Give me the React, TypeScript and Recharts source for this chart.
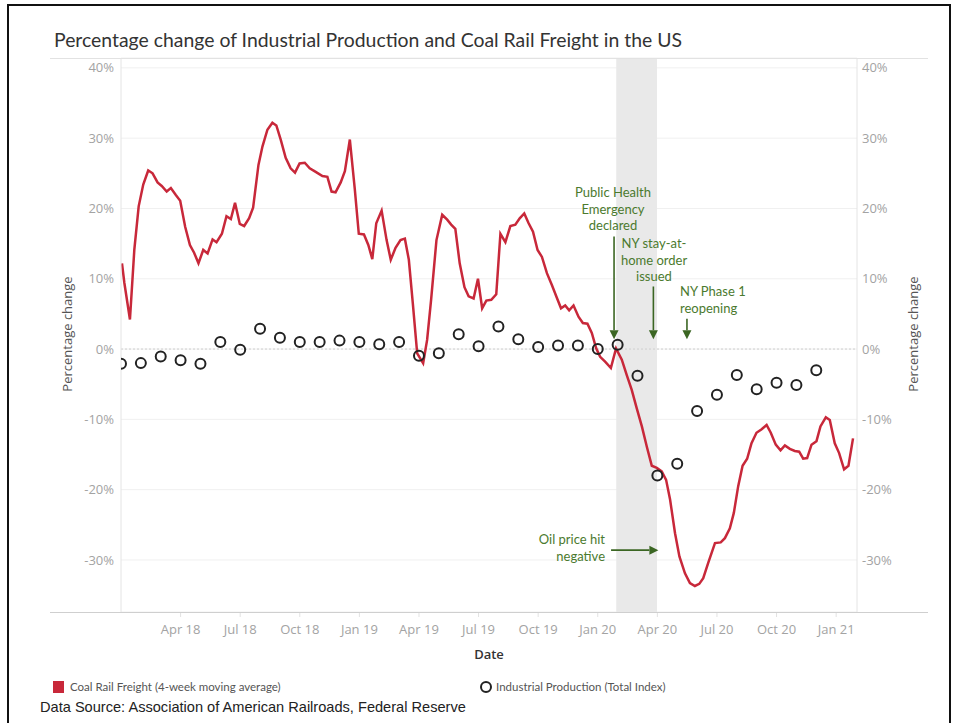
import {
  ComposedChart,
  Line,
  Scatter,
  XAxis,
  YAxis,
  CartesianGrid,
  ReferenceArea,
  ReferenceLine,
} from 'recharts';

// x values are months since Jan 2018 (0 = Jan 1, 2018)
const quarterTicks = [3, 6, 9, 12, 15, 18, 21, 24, 27, 30, 33, 36];
const quarterLabels = ['Apr 18', 'Jul 18', 'Oct 18', 'Jan 19', 'Apr 19', 'Jul 19', 'Oct 19', 'Jan 20', 'Apr 20', 'Jul 20', 'Oct 20', 'Jan 21'];
const pctTicks = [-30, -20, -10, 0, 10, 20, 30, 40];

// Coal rail freight, 4-week moving average (% change)
const freightMonth = [
  0.05, 0.17, 0.45, 0.67, 0.89, 1.12, 1.37, 1.59, 1.84, 2.05,
  2.3, 2.51, 2.76, 2.98, 3.23, 3.47, 3.68, 3.9, 4.14, 4.36,
  4.61, 4.81, 5.08, 5.31, 5.53, 5.74, 5.98, 6.2, 6.45, 6.65,
  6.92, 7.12, 7.37, 7.62, 7.82, 8.04, 8.29, 8.54, 8.76, 8.99,
  9.25, 9.5, 9.8, 10.14, 10.39, 10.6, 10.8, 11.06, 11.27, 11.52,
  11.77, 11.97, 12.23, 12.45, 12.65, 12.85, 13.12, 13.37, 13.58, 13.82,
  14.07, 14.29, 14.49, 14.69, 14.91, 15.21, 15.41, 15.61, 15.88, 16.17,
  16.42, 16.62, 16.83, 17.05, 17.29, 17.5, 17.75, 17.97, 18.18, 18.39,
  18.64, 18.89, 19.1, 19.35, 19.6, 19.85, 20.07, 20.3, 20.52, 20.74,
  20.97, 21.19, 21.44, 21.69, 21.94, 22.15, 22.36, 22.56, 22.78, 23.03,
  23.25, 23.48, 23.7, 23.92, 24.12, 24.37, 24.66, 24.92, 25.21, 25.46,
  25.71, 25.96, 26.22, 26.47, 26.72, 26.97, 27.22, 27.44, 27.64, 27.89,
  28.11, 28.39, 28.64, 28.89, 29.11, 29.31, 29.56, 29.9, 30.19, 30.4,
  30.65, 30.85, 31.07, 31.29, 31.52, 31.74, 31.99, 32.25, 32.5, 32.71,
  32.96, 33.2, 33.42, 33.67, 33.92, 34.14, 34.34, 34.54, 34.76, 35.01,
  35.21, 35.48, 35.68, 35.93, 36.15, 36.4, 36.62, 36.85,
];
const freightPct = [
  12.2, 9.4, 4.2, 14.1, 20.3, 23.4, 25.4, 25.0, 23.7, 23.2,
  22.4, 22.9, 21.9, 21.1, 17.4, 14.8, 13.7, 12.2, 14.1, 13.6,
  15.6, 15.2, 16.4, 18.9, 18.5, 20.8, 17.8, 17.5, 18.6, 20.1,
  26.2, 28.8, 31.2, 32.2, 31.8, 29.8, 27.2, 25.7, 25.1, 26.4,
  26.5, 25.7, 25.2, 24.6, 24.5, 22.4, 22.3, 23.7, 25.3, 29.8,
  22.7, 16.4, 16.3, 14.8, 12.8, 17.9, 19.7, 15.5, 12.7, 14.4,
  15.5, 15.7, 12.7, 6.5, -0.6, -2.0, 1.3, 7.0, 15.5, 19.1,
  18.4, 17.7, 17.1, 12.2, 8.8, 7.5, 7.2, 10.0, 5.8, 6.9,
  7.0, 7.8, 16.4, 15.2, 17.5, 17.7, 18.6, 19.3, 17.9, 16.7,
  14.1, 13.1, 10.8, 9.1, 7.3, 5.8, 6.2, 5.5, 6.2, 4.6,
  3.7, 3.6, 2.3, 0.1, -1.1, -1.8, -2.7, 0.1, -1.5, -3.7,
  -5.8, -8.4, -11.0, -13.9, -16.6, -16.9, -17.4, -18.6, -21.4, -26.2,
  -29.5, -31.9, -33.3, -33.7, -33.4, -32.6, -30.4, -27.6, -27.5, -26.9,
  -25.5, -23.3, -19.5, -16.6, -15.6, -13.4, -11.9, -11.4, -10.8, -11.9,
  -13.6, -14.4, -13.7, -14.2, -14.5, -14.6, -15.6, -15.5, -13.6, -13.1,
  -11.0, -9.7, -10.1, -13.4, -14.8, -17.1, -16.6, -12.7,
];

// Industrial production (total index), monthly Jan 2018 - Dec 2020
const productionPct = [
  -2.1, -2.0, -1.05, -1.6, -2.1, 1.0, -0.1, 2.9, 1.6, 1.0, 1.0, 1.2,
  1.0, 0.7, 1.0, -0.95, -0.6, 2.1, 0.4, 3.2, 1.4, 0.3, 0.5, 0.5,
  0.0, 0.6, -3.8, -18.0, -16.3, -8.8, -6.5, -3.7, -5.7, -4.8, -5.1, -3.0,
];

const freightData = freightMonth.map((m, i) => ({ m, v: freightPct[i] }));
const productionData = productionPct.map((v, i) => ({ m: i, v }));

const RED = '#c8283a';
const GREEN_TEXT = '#4b7a2e';
const GREEN_ARROW = '#3b6623';
const TICK = { fontSize: 13, fill: '#a3a3a3', fontFamily: 'Open Sans' };
const DOMAIN: [number, number] = [-37.4, 41.4];

const Arrow = (p: any) => {
  const { x1, y1, x2, y2 } = p;
  const ang = Math.atan2(y2 - y1, x2 - x1);
  const len = 9;
  const half = 4.5;
  const bx = x2 - len * Math.cos(ang);
  const by = y2 - len * Math.sin(ang);
  const nx = -Math.sin(ang) * half;
  const ny = Math.cos(ang) * half;
  return (
    <g>
      <line x1={x1} y1={y1} x2={bx} y2={by} stroke={GREEN_ARROW} strokeWidth={1.6} />
      <polygon points={`${x2},${y2} ${bx + nx},${by + ny} ${bx - nx},${by - ny}`} fill={GREEN_ARROW} />
    </g>
  );
};

const Ring = (p: any) => (
  <circle cx={p.cx} cy={p.cy} r={5} fill="none" stroke="#222" strokeWidth={2} />
);

// annotation arrows, in data coordinates
const arrows = [
  [{ x: 24.82, y: 16.0 }, { x: 24.82, y: 1.4 }],
  [{ x: 26.8, y: 8.9 }, { x: 26.8, y: 1.4 }],
  [{ x: 28.49, y: 4.3 }, { x: 28.49, y: 1.4 }],
  [{ x: 24.67, y: -28.6 }, { x: 27.05, y: -28.6 }],
];

export default function App() {
  return (
    <div style={{ position: 'absolute', left: 0, top: 0, width: 957, height: 723, background: '#fff' }}>
      <ComposedChart
        width={957}
        height={723}
        margin={{ top: 58, right: 0, bottom: 81, left: 0 }}
      >
        <CartesianGrid vertical={false} stroke="#f0f0f0" yAxisId="left" />
        <ReferenceArea x1={24.93} x2={26.98} yAxisId="left" fill="#e9e9e9" fillOpacity={1} stroke="none" ifOverflow="extendDomain" />
        <XAxis
          dataKey="m"
          type="number"
          domain={[0, 37.05]}
          ticks={quarterTicks}
          tickFormatter={(v) => quarterLabels[quarterTicks.indexOf(v)]}
          allowDataOverflow
          height={30}
          tick={TICK}
          tickSize={5}
          tickMargin={8}
          tickLine={{ stroke: '#e2e2e2' }}
          axisLine={false}
        />
        <YAxis
          yAxisId="left"
          width={121}
          domain={DOMAIN}
          ticks={pctTicks}
          allowDataOverflow
          tickFormatter={(v) => `${v}%`}
          tick={TICK}
          tickSize={0}
          tickMargin={7}
          axisLine={{ stroke: '#e4e4e4' }}
        />
        <YAxis
          yAxisId="right"
          orientation="right"
          width={100}
          domain={DOMAIN}
          ticks={pctTicks}
          allowDataOverflow
          tickFormatter={(v) => `${v}%`}
          tick={{ ...TICK, textAnchor: 'start' }}
          tickSize={0}
          tickMargin={5}
          axisLine={{ stroke: '#e4e4e4' }}
        />
        <ReferenceLine y={0} yAxisId="left" stroke="#cfcfcf" strokeDasharray="2 2" />
        <Line
          yAxisId="left"
          data={freightData}
          dataKey="v"
          type="linear"
          stroke={RED}
          strokeWidth={2.5}
          dot={false}
          isAnimationActive={false}
        />
        <Scatter
          yAxisId="right"
          data={productionData}
          dataKey="v"
          shape={Ring}
          isAnimationActive={false}
        />
        {arrows.map((seg, i) => (
          <ReferenceLine key={i} yAxisId="left" segment={seg} shape={Arrow} />
        ))}
      </ComposedChart>

      <svg
        width={957}
        height={723}
        style={{ position: 'absolute', left: 0, top: 0, pointerEvents: 'none' }}
      >
        <path d="M8,723 V5 H950 V723" fill="none" stroke="#111" strokeWidth={2} />
        <line x1={50} y1={58.5} x2={928} y2={58.5} stroke="#e2e2e2" />
        <line x1={50} y1={612.5} x2={928} y2={612.5} stroke="#cfcfcf" />
        <text x={54} y={47} fontFamily="Lato" fontSize={19.4} fill="#333">
          Percentage change of Industrial Production and Coal Rail Freight in the US
        </text>
        <text
          x={67}
          y={334}
          transform="rotate(-90 67 334)"
          textAnchor="middle"
          dominantBaseline="central"
          fontFamily="Open Sans"
          fontSize={13}
          fill="#555"
        >
          Percentage change
        </text>
        <text
          x={913}
          y={334}
          transform="rotate(-90 913 334)"
          textAnchor="middle"
          dominantBaseline="central"
          fontFamily="Open Sans"
          fontSize={13}
          fill="#555"
        >
          Percentage change
        </text>
        <text x={489} y={659} textAnchor="middle" fontFamily="Open Sans" fontWeight={600} fontSize={13} fill="#333">
          Date
        </text>

        <g fontFamily="Lato" fontSize={13} fill={GREEN_TEXT}>
          <text x={613} y={197} textAnchor="middle">Public Health</text>
          <text x={613} y={214} textAnchor="middle">Emergency</text>
          <text x={613} y={230} textAnchor="middle">declared</text>
          <text x={654} y={248} textAnchor="middle">NY stay-at-</text>
          <text x={654} y={265} textAnchor="middle">home order</text>
          <text x={654} y={281} textAnchor="middle">issued</text>
          <text x={680} y={296}>NY Phase 1</text>
          <text x={680} y={313}>reopening</text>
          <text x={605} y={544} textAnchor="end">Oil price hit</text>
          <text x={605} y={561} textAnchor="end">negative</text>
        </g>

        <rect x={53} y={681} width={11} height={12} fill={RED} />
        <text x={70} y={691} fontFamily="Lato" fontSize={11.5} fill="#555">
          Coal Rail Freight (4-week moving average)
        </text>
        <circle cx={486} cy={687} r={5} fill="none" stroke="#222" strokeWidth={2} />
        <text x={496} y={691} fontFamily="Lato" fontSize={11.5} fill="#555">
          Industrial Production (Total Index)
        </text>
        <text x={40} y={712} fontFamily="Liberation Sans" fontSize={14.6} fill="#222">
          Data Source: Association of American Railroads, Federal Reserve
        </text>
      </svg>
    </div>
  );
}
